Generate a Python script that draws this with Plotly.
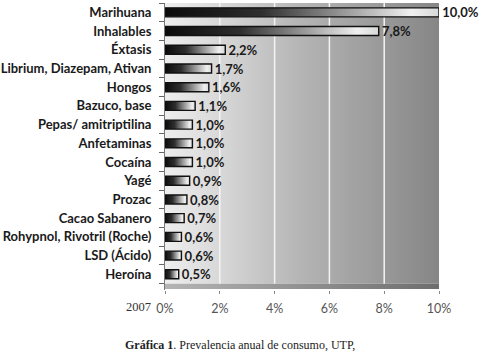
import plotly.graph_objects as go

categories = ["Marihuana", "Inhalables", "Éxtasis", "Librium, Diazepam, Ativan", "Hongos",
              "Bazuco, base", "Pepas/ amitriptilina", "Anfetaminas", "Cocaína", "Yagé",
              "Prozac", "Cacao Sabanero", "Rohypnol, Rivotril (Roche)", "LSD (Ácido)", "Heroína"]
values = [10.0, 7.8, 2.2, 1.7, 1.6, 1.1, 1.0, 1.0, 1.0, 0.9, 0.8, 0.7, 0.6, 0.6, 0.5]
x_ticks = [0, 2, 4, 6, 8, 10]
x_ticktext = ["0%", "2%", "4%", "6%", "8%", "10%"]

n = len(categories)
X_MAX = 10
Y_TOP = -0.5
WALL_BOTTOM = n - 0.5
FLOOR_BOTTOM = n - 0.22
HALF = 0.24

fig = go.Figure()

# back wall with horizontal gradient
fig.add_trace(go.Scatter(
    x=[0, X_MAX, X_MAX, 0, 0], y=[Y_TOP, Y_TOP, WALL_BOTTOM, WALL_BOTTOM, Y_TOP],
    mode="lines", fill="toself", line=dict(width=0),
    fillgradient=dict(type="horizontal",
                      colorscale=[[0, "#eeeeee"], [0.2, "#d8d8d8"], [0.5, "#b4b4b4"], [1, "#868686"]]),
    hoverinfo="skip", showlegend=False))

# floor
fig.add_trace(go.Scatter(
    x=[0, X_MAX, X_MAX, 0, 0], y=[WALL_BOTTOM, WALL_BOTTOM, FLOOR_BOTTOM, FLOOR_BOTTOM, WALL_BOTTOM],
    mode="lines", fill="toself", line=dict(width=0),
    fillgradient=dict(type="horizontal",
                      colorscale=[[0, "#b4b4b4"], [1, "#6e6e6e"]]),
    hoverinfo="skip", showlegend=False))

# white gridlines
for t in x_ticks[1:-1]:
    fig.add_trace(go.Scatter(x=[t, t], y=[Y_TOP, WALL_BOTTOM], mode="lines",
                             line=dict(color="#f4f4f4", width=1.5),
                             hoverinfo="skip", showlegend=False))

# bars
for i, v in enumerate(values):
    fig.add_trace(go.Scatter(
        x=[0, v, v, 0, 0], y=[i - HALF, i - HALF, i + HALF, i + HALF, i - HALF],
        mode="lines", fill="toself", line=dict(color="#111111", width=1.4),
        fillgradient=dict(type="horizontal",
                          colorscale=[[0, "#0a0a0a"], [0.35, "#2e2e2e"], [0.9, "#f0f0f0"], [1, "#d8d8d8"]]),
        hoverinfo="skip", showlegend=False))

# value labels
labels = [(" " + f"{v:.1f}".replace(".", ",") + "%") for v in values]
fig.add_trace(go.Scatter(
    x=values, y=[i + 0.1 for i in range(n)], mode="text", text=labels,
    textposition="middle right",
    textfont=dict(family="Lato", size=13, color="#1a1a1a", weight="bold"),
    hoverinfo="skip", showlegend=False, cliponaxis=False))

fig.update_layout(
    width=482, height=356,
    margin=dict(l=165, r=43, t=3, b=66),
    paper_bgcolor="white", plot_bgcolor="white",
    font=dict(family="Lato"),
    xaxis=dict(range=[0, X_MAX], tickvals=x_ticks, ticktext=x_ticktext,
               showgrid=False, zeroline=False, showline=False, automargin=False,
               ticks="outside", ticklen=3, tickcolor="#888888",
               tickfont=dict(family="Lato", size=12.5, color="#555555"),
               ticklabelstandoff=4, fixedrange=True),
    yaxis=dict(range=[FLOOR_BOTTOM + 0.06, Y_TOP], tickvals=list(range(n)), ticktext=categories,
               showgrid=False, zeroline=False, showline=True, linecolor="#777777", linewidth=1,
               ticks="", ticklabelstandoff=10, automargin=False,
               minor=dict(tickvals=[i + 0.5 for i in range(-1, n)], ticks="outside",
                          ticklen=5, tickcolor="#666666"),
               tickfont=dict(family="Lato", size=13, color="#1a1a1a", weight="bold"),
               fixedrange=True),
    annotations=[
        dict(text="2007", xref="paper", yref="paper", x=-0.095, y=-0.058,
             xanchor="center", yanchor="middle", showarrow=False,
             font=dict(family="Liberation Serif", size=12.5, color="#333333")),
        dict(text="<b>Gráfica 1</b>. Prevalencia anual de consumo, UTP,",
             xref="paper", yref="paper", x=0.274, y=-0.19,
             xanchor="center", yanchor="middle", showarrow=False,
             font=dict(family="Liberation Serif", size=12, color="#222222")),
    ],
)

fig.write_html("out.html", config={"displayModeBar": False},
               post_script="document.body.style.margin='0';")
